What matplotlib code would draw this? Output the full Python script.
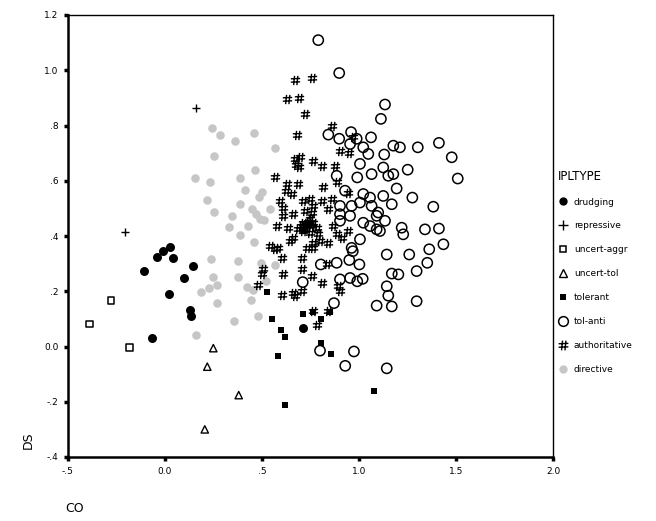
import matplotlib
matplotlib.use("Agg")
import matplotlib.pyplot as plt
from matplotlib.path import Path
from matplotlib.lines import Line2D

# ---- data (CO, DS) per IPLTYPE ----
drudging_x = [-0.108, -0.040, -0.010, 0.026, 0.040, 0.019, 0.098, 0.143, 0.129, 0.136, -0.069, 0.710]
drudging_y = [0.273, 0.324, 0.345, 0.360, 0.319, 0.190, 0.248, 0.290, 0.133, 0.109, 0.030, 0.067]

repressive_x = [0.160, -0.206]
repressive_y = [0.863, 0.416]

uncert_aggr_x = [-0.278, -0.390, -0.182]
uncert_aggr_y = [0.167, 0.081, -0.004]

uncert_tol_x = [0.249, 0.218, 0.380, 0.205]
uncert_tol_y = [-0.006, -0.073, -0.176, -0.300]

tolerant_x = [0.524, 0.554, 0.597, 0.620, 0.582, 0.619, 0.713, 0.803, 0.803, 0.851, 0.761, 0.854, 1.079]
tolerant_y = [0.196, 0.098, 0.061, 0.036, -0.036, -0.210, 0.119, 0.099, 0.012, 0.124, 0.124, -0.027, -0.161]

tol_anti_x = [0.790, 0.898, 0.842, 0.898, 0.959, 0.988, 0.954, 1.022, 1.048, 1.005, 0.885, 0.991,
              1.065, 0.928, 1.022, 1.057, 0.902, 0.962, 1.005, 0.902, 0.954, 0.902, 1.022, 1.057,
              1.091, 1.005, 0.962, 1.099, 1.134, 1.113, 1.062, 1.177, 1.211, 1.303, 1.412, 1.478,
              1.130, 1.125, 1.251, 1.177, 1.151, 1.509, 1.194, 1.125, 1.275, 1.169, 1.383, 1.065,
              1.134, 1.091, 1.108, 1.220, 1.228, 1.340, 1.412, 1.435, 1.362, 1.259, 1.143, 1.352,
              1.297, 1.169, 1.203, 1.143, 1.151, 1.091, 1.169, 1.297, 0.968, 0.950, 1.002, 0.885,
              0.803, 0.710, 0.902, 0.954, 0.991, 1.019, 0.871, 0.799, 0.974, 0.929, 1.143]
tol_anti_y = [1.109, 0.990, 0.767, 0.752, 0.776, 0.752, 0.733, 0.721, 0.697, 0.661, 0.618, 0.612,
              0.624, 0.564, 0.552, 0.539, 0.509, 0.509, 0.521, 0.479, 0.473, 0.455, 0.448, 0.436,
              0.424, 0.388, 0.357, 0.485, 0.876, 0.824, 0.757, 0.727, 0.721, 0.721, 0.737, 0.685,
              0.695, 0.648, 0.640, 0.624, 0.618, 0.608, 0.572, 0.545, 0.539, 0.515, 0.506, 0.509,
              0.455, 0.473, 0.418, 0.430, 0.406, 0.424, 0.427, 0.370, 0.352, 0.333, 0.333, 0.303,
              0.273, 0.264, 0.261, 0.218, 0.184, 0.148, 0.145, 0.164, 0.345, 0.313, 0.297, 0.303,
              0.297, 0.233, 0.243, 0.248, 0.236, 0.245, 0.157, -0.015, -0.018, -0.070, -0.079]

authoritative_x = [0.670, 0.756, 0.627, 0.692, 0.722, 0.679, 0.859, 0.971,
                   0.670, 0.696, 0.675, 0.692, 0.764, 0.808, 0.876, 0.902, 0.950, 0.567,
                   0.627, 0.687, 0.624, 0.653, 0.816, 0.885, 0.945, 0.593, 0.610, 0.713,
                   0.747, 0.764, 0.808, 0.859, 0.842, 0.722, 0.756, 0.661, 0.610, 0.747,
                   0.713, 0.739, 0.764, 0.782, 0.576, 0.636, 0.687, 0.713, 0.747, 0.790,
                   0.661, 0.644, 0.799, 0.764, 0.842, 0.885, 0.911, 0.945, 0.584, 0.730,
                   0.764, 0.868,
                   0.602, 0.610, 0.705, 0.705, 0.756, 0.808, 0.602, 0.670, 0.705, 0.834,
                   0.893, 0.902, 0.764, 0.782, 0.842, 0.567, 0.481, 0.541, 0.507, 0.498, 0.661,
                   0.728, 0.735, 0.750, 0.720, 0.700]
authoritative_y = [0.964, 0.973, 0.897, 0.901, 0.840, 0.767, 0.800, 0.760,
                   0.679, 0.685, 0.658, 0.651, 0.670, 0.655, 0.655, 0.709, 0.699, 0.612,
                   0.588, 0.588, 0.564, 0.552, 0.576, 0.594, 0.557, 0.527, 0.503, 0.527,
                   0.533, 0.509, 0.527, 0.533, 0.497, 0.491, 0.485, 0.479, 0.473, 0.461,
                   0.448, 0.443, 0.448, 0.430, 0.436, 0.430, 0.424, 0.418, 0.412, 0.406,
                   0.394, 0.382, 0.382, 0.376, 0.376, 0.406, 0.394, 0.418, 0.357, 0.357,
                   0.357, 0.436,
                   0.321, 0.261, 0.321, 0.279, 0.255, 0.230, 0.188, 0.182, 0.200, 0.297,
                   0.218, 0.200, 0.127, 0.079, 0.127, 0.352, 0.224, 0.364, 0.279, 0.261, 0.194,
                   0.440, 0.452, 0.438, 0.425, 0.436]

directive_x = [0.244, 0.284, 0.362, 0.457, 0.569, 0.251, 0.464, 0.156, 0.230, 0.385, 0.414,
               0.498, 0.486, 0.215, 0.385, 0.540, 0.448, 0.469, 0.253, 0.347, 0.490, 0.510,
               0.331, 0.428, 0.387, 0.459, 0.237, 0.378, 0.495, 0.246, 0.378, 0.567, 0.266,
               0.228, 0.187, 0.421, 0.455, 0.519, 0.266, 0.443, 0.479, 0.356, 0.158]
directive_y = [0.792, 0.766, 0.743, 0.774, 0.719, 0.688, 0.640, 0.610, 0.595, 0.610, 0.568,
               0.559, 0.542, 0.532, 0.517, 0.496, 0.496, 0.479, 0.486, 0.473, 0.462, 0.459,
               0.433, 0.435, 0.403, 0.378, 0.315, 0.310, 0.301, 0.252, 0.252, 0.295, 0.222,
               0.212, 0.196, 0.216, 0.206, 0.236, 0.159, 0.170, 0.109, 0.093, 0.041]

x_ticks = [-0.5, 0.0, 0.5, 1.0, 1.5, 2.0]
x_tick_labels = ["-.5", "0.0", ".5", "1.0", "1.5", "2.0"]
y_ticks = [-0.4, -0.2, 0.0, 0.2, 0.4, 0.6, 0.8, 1.0, 1.2]
y_tick_labels = ["-.4", "-.2", "0.0", ".2", ".4", ".6", ".8", "1.0", "1.2"]

# hash-like marker for "authoritative"
hash_marker = Path(
    [(-0.2, -0.5), (-0.1, 0.5), (0.15, -0.5), (0.25, 0.5),
     (-0.5, 0.18), (0.5, 0.22), (-0.5, -0.18), (0.5, -0.14)],
    [Path.MOVETO, Path.LINETO, Path.MOVETO, Path.LINETO,
     Path.MOVETO, Path.LINETO, Path.MOVETO, Path.LINETO])

plt.rcParams['font.family'] = ['DejaVu Sans']
fig = plt.figure(figsize=(6.56, 5.21), dpi=100)
ax = fig.add_axes([68/656, 1-457/521, (553-68)/656, (457-15)/521])

gray = '#c6c6c6'
specs = [
    ("drudging", drudging_x, drudging_y, dict(marker='o', s=42, c='black', linewidths=0)),
    ("repressive", repressive_x, repressive_y, dict(marker='+', s=40, c='black', linewidths=1.0)),
    ("uncert-aggr", uncert_aggr_x, uncert_aggr_y, dict(marker='s', s=22, facecolors='none', edgecolors='black', linewidths=1.1)),
    ("uncert-tol", uncert_tol_x, uncert_tol_y, dict(marker='^', s=28, facecolors='none', edgecolors='black', linewidths=1.0)),
    ("tolerant", tolerant_x, tolerant_y, dict(marker='s', s=16, c='black', linewidths=0)),
    ("tol-anti", tol_anti_x, tol_anti_y, dict(marker='o', s=54, facecolors='none', edgecolors='black', linewidths=1.1)),
    ("authoritative", authoritative_x, authoritative_y, dict(marker=hash_marker, s=45, c='black', linewidths=1.0)),
    ("directive", directive_x, directive_y, dict(marker='o', s=38, c=gray, linewidths=0)),
]

order = ["directive", "tol-anti", "authoritative", "tolerant", "drudging", "uncert-tol", "uncert-aggr", "repressive"]
for name, xs, ys, kw in specs:
    z = 3 + order.index(name)
    ax.scatter(xs, ys, zorder=z, **kw)

ax.set_xlim(-0.5, 2.0)
ax.set_ylim(-0.4, 1.2)
ax.set_xticks(x_ticks)
ax.set_xticklabels(x_tick_labels, fontsize=6.5)
ax.set_yticks(y_ticks)
ax.set_yticklabels(y_tick_labels, fontsize=6.5)
ax.tick_params(direction='out', length=3, width=2.5, pad=4)
for side in ['left', 'bottom']:
    ax.spines[side].set_linewidth(1.8)
for side in ['top', 'right']:
    ax.spines[side].set_linewidth(1.0)

fig.text(28/656, 1-440/521, "DS", rotation=90, ha='center', va='center', fontsize=9)
fig.text(75/656, 1-508/521, "CO", ha='center', va='center', fontsize=9)

# legend
leg_handles = [
    Line2D([], [], linestyle='none', marker='o', markersize=6, color='black', markeredgewidth=0),
    Line2D([], [], linestyle='none', marker='+', markersize=7, color='black', markeredgewidth=1.0),
    Line2D([], [], linestyle='none', marker='s', markersize=5, markerfacecolor='none', markeredgecolor='black', markeredgewidth=1.1),
    Line2D([], [], linestyle='none', marker='^', markersize=6, markerfacecolor='none', markeredgecolor='black', markeredgewidth=1.0),
    Line2D([], [], linestyle='none', marker='s', markersize=4, color='black', markeredgewidth=0),
    Line2D([], [], linestyle='none', marker='o', markersize=7, markerfacecolor='none', markeredgecolor='black', markeredgewidth=1.1),
    Line2D([], [], linestyle='none', marker=hash_marker, markersize=7, color='black', markeredgewidth=1.0),
    Line2D([], [], linestyle='none', marker='o', markersize=6, color=gray, markeredgewidth=0),
]
leg_labels = [s[0] for s in specs]
leg = fig.legend(leg_handles, leg_labels, loc='upper left',
                 bbox_to_anchor=(554/656, 1-166/521), frameon=False,
                 title="IPLTYPE", fontsize=6.5, title_fontsize=8.5,
                 labelspacing=1.65, handlelength=1.2, handletextpad=0.6,
                 alignment='left', borderaxespad=0)

fig.savefig("out.png", dpi=100)
